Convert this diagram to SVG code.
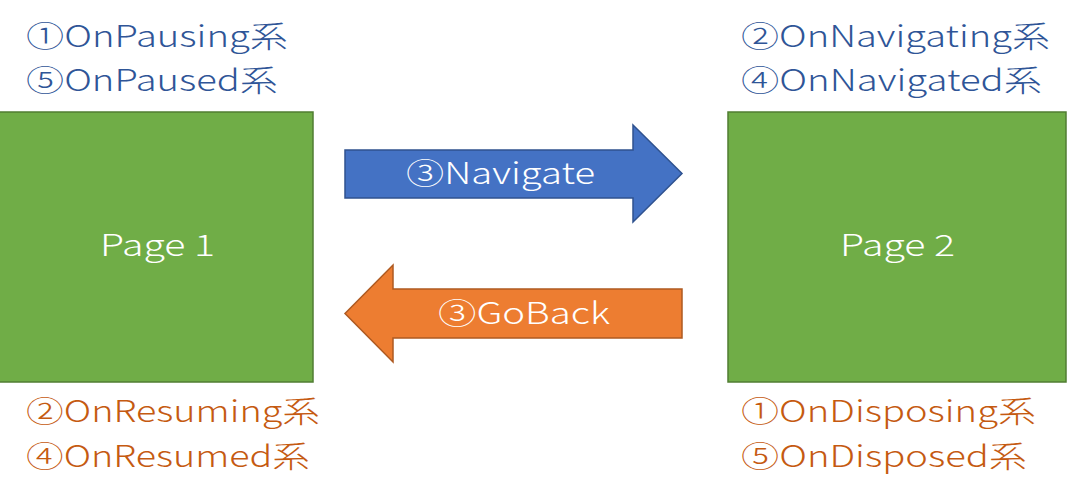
<svg xmlns="http://www.w3.org/2000/svg" width="1076" height="504" viewBox="0 0 1076 504">
<style>
text{font-family:"Noto Sans CJK JP","Noto Sans",sans-serif;font-size:30px;font-weight:300;}
.page{fill:#70AD47;stroke:#507E32;stroke-width:1.5;}
.ptxt{fill:#FFFFFF;}
.blue{fill:#2F5597;}
.orange{fill:#C55A11;}
.atxt{fill:#FFFFFF;}
</style>
<rect width="1076" height="504" fill="#FFFFFF"/>
<g id="page1">
<rect class="page" x="-1" y="112" width="314" height="270"/>
<text class="ptxt" x="100" y="256" textLength="115" lengthAdjust="spacingAndGlyphs">Page 1</text>
</g>
<g id="page2">
<rect class="page" x="728" y="112" width="338" height="270"/>
<text class="ptxt" x="840" y="256" textLength="115" lengthAdjust="spacingAndGlyphs">Page 2</text>
</g>
<g id="labels">
<text class="blue" x="26" y="47" textLength="262" lengthAdjust="spacingAndGlyphs">①OnPausing系</text>
<text class="blue" x="26" y="91" textLength="252" lengthAdjust="spacingAndGlyphs">⑤OnPaused系</text>
<text class="blue" x="741" y="47" textLength="309" lengthAdjust="spacingAndGlyphs">②OnNavigating系</text>
<text class="blue" x="741" y="91" textLength="301" lengthAdjust="spacingAndGlyphs">④OnNavigated系</text>
<text class="orange" x="26" y="422" textLength="294" lengthAdjust="spacingAndGlyphs">②OnResuming系</text>
<text class="orange" x="26" y="467" textLength="284" lengthAdjust="spacingAndGlyphs">④OnResumed系</text>
<text class="orange" x="741" y="422" textLength="295" lengthAdjust="spacingAndGlyphs">①OnDisposing系</text>
<text class="orange" x="741" y="467" textLength="286" lengthAdjust="spacingAndGlyphs">⑤OnDisposed系</text>
</g>
<g id="connectors">
<g id="navigate">
<polygon points="345,150 633,150 633,125 682,173.5 633,222 633,198 345,198" fill="#4472C4" stroke="#2F528F" stroke-width="1.5"/>
<text class="atxt" x="406" y="184" textLength="189" lengthAdjust="spacingAndGlyphs">③Navigate</text>
</g>
<g id="goback">
<polygon points="682,289 393,289 393,265 345,313.5 393,362 393,338 682,338" fill="#ED7D31" stroke="#AE5A21" stroke-width="1.5"/>
<text class="atxt" x="438" y="324" textLength="172" lengthAdjust="spacingAndGlyphs">③GoBack</text>
</g>
</g>
</svg>
